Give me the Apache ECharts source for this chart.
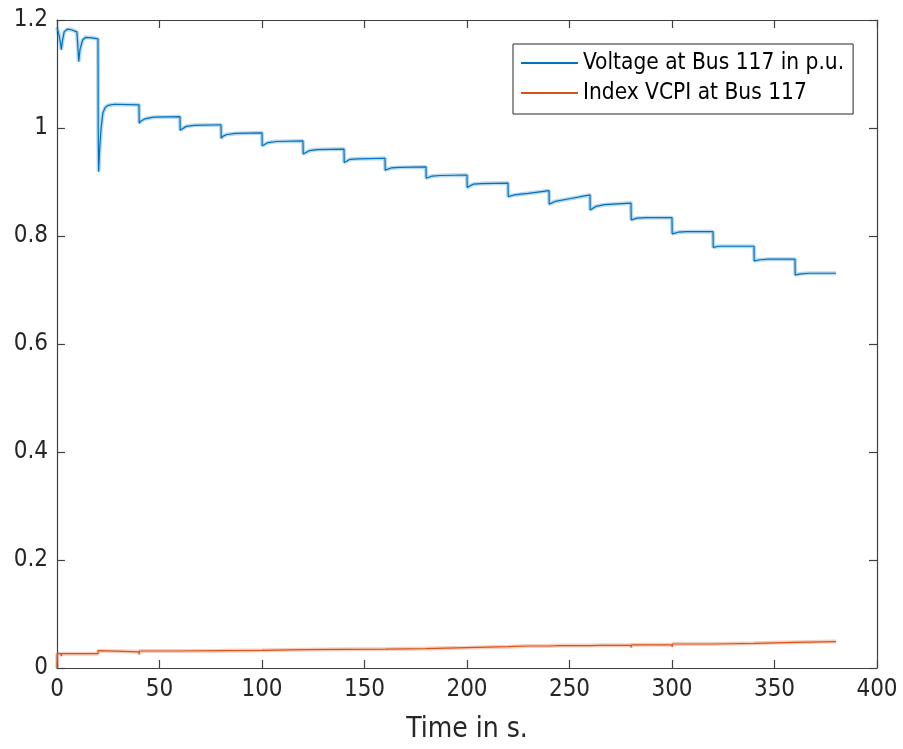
<!DOCTYPE html>
<html>
<head>
<meta charset="utf-8">
<script src="https://cdn.jsdelivr.net/npm/echarts@6/dist/echarts.min.js"></script>
<style>
html,body{margin:0;padding:0;background:#fff;}
#chart{width:903px;height:749px;}
</style>
</head>
<body>
<div id="chart"></div>
<script>
// ---- data ----
var xTicks = [0, 50, 100, 150, 200, 250, 300, 350, 400];
var yTicks = [0, 0.2, 0.4, 0.6, 0.8, 1, 1.2];
var seriesNames = ['Voltage at Bus 117 in p.u.', 'Index VCPI at Bus 117'];

var voltT = [0, 0.8, 1.6, 2.1, 2.6, 3.5, 5, 7, 9.7, 10.2, 10.6, 11.2, 12.5, 14, 17, 20, 20.1, 20.3, 20.8, 21.5, 22.4, 23.5, 25, 28, 40,
  40.1, 41, 43, 47, 60,
  60.1, 61, 63, 67, 80,
  80.1, 81, 83, 87, 100,
  100.1, 101, 103, 107, 120,
  120.1, 121, 123, 127, 140,
  140.1, 141, 143, 147, 160,
  160.1, 161, 163, 167, 180,
  180.1, 181, 183, 187, 200,
  200.1, 201, 203, 207, 220,
  220.1, 221, 223, 230, 240,
  240.1, 241, 243, 250, 260,
  260.1, 261, 263, 267, 280,
  280.1, 281, 283, 287, 300,
  300.1, 301, 303, 307, 320,
  320.1, 321, 323, 327, 340,
  340.1, 341, 343, 347, 360,
  360.1, 361, 363, 367, 380];
var voltV = [1.186, 1.175, 1.16, 1.145, 1.16, 1.178, 1.183, 1.182, 1.178, 1.15, 1.123, 1.145, 1.163, 1.168, 1.167, 1.165, 1.0, 0.919, 0.96, 1.0, 1.028, 1.038, 1.042, 1.044, 1.043,
  1.009, 1.013, 1.017, 1.020, 1.021,
  0.996, 0.999, 1.003, 1.005, 1.006,
  0.981, 0.985, 0.988, 0.990, 0.991,
  0.967, 0.970, 0.973, 0.975, 0.976,
  0.952, 0.955, 0.958, 0.960, 0.961,
  0.936, 0.939, 0.942, 0.943, 0.944,
  0.922, 0.924, 0.926, 0.927, 0.928,
  0.907, 0.909, 0.911, 0.912, 0.913,
  0.890, 0.893, 0.896, 0.897, 0.898,
  0.873, 0.874, 0.876, 0.879, 0.884,
  0.859, 0.861, 0.864, 0.869, 0.876,
  0.848, 0.851, 0.855, 0.858, 0.861,
  0.830, 0.831, 0.833, 0.834, 0.834,
  0.804, 0.805, 0.807, 0.808, 0.808,
  0.779, 0.780, 0.781, 0.781, 0.781,
  0.754, 0.755, 0.756, 0.757, 0.757,
  0.728, 0.729, 0.730, 0.731, 0.731];

var vcpiT = [0, 0.1, 2, 2.1, 2.2, 10, 10.1, 10.2, 20, 20.1, 20.4,
  40, 40.1, 40.2, 60, 60.1, 60.2, 80, 80.1, 80.2, 100, 100.1, 100.2,
  120, 120.1, 120.2, 140, 140.1, 140.2, 160, 160.1, 160.2, 180, 180.1, 180.2,
  200, 200.1, 200.2, 220, 220.1, 220.2,
  230, 230.05, 230.1, 230.15, 235, 235.05, 235.1, 235.15,
  240, 240.1, 240.2,
  245, 245.05, 245.1, 245.15, 250, 250.05, 250.1, 250.15, 255, 255.05, 255.1, 255.15,
  260, 260.1, 260.2,
  265, 265.05, 265.1, 265.15, 270, 270.05, 270.1, 270.15, 275, 275.05, 275.1, 275.15,
  280, 280.1, 280.2,
  285, 285.05, 285.1, 285.15, 290, 290.05, 290.1, 290.15, 295, 295.05, 295.1, 295.15,
  300, 300.1, 300.2,
  305, 305.05, 305.1, 305.15,
  320, 320.1, 320.2, 340, 340.1, 340.2, 360, 360.1, 360.2, 380];
var vcpiV = [0, 0.0265, 0.0265, 0.022, 0.0265, 0.0265, 0.023, 0.0265, 0.0265, 0.032, 0.030,
  0.030, 0.025, 0.0315, 0.0315, 0.028, 0.032, 0.032, 0.029, 0.0327, 0.0327, 0.030, 0.034,
  0.034, 0.031, 0.0346, 0.0346, 0.032, 0.035, 0.035, 0.032, 0.036, 0.036, 0.033, 0.0376,
  0.0376, 0.034, 0.0395, 0.0395, 0.036, 0.0407,
  0.0407, 0.043, 0.038, 0.0407, 0.0407, 0.043, 0.038, 0.0407,
  0.0407, 0.037, 0.0415,
  0.0415, 0.044, 0.039, 0.0415, 0.0415, 0.044, 0.039, 0.0415, 0.0415, 0.044, 0.039, 0.0415,
  0.0415, 0.038, 0.042,
  0.042, 0.0445, 0.0395, 0.042, 0.042, 0.0445, 0.0395, 0.042, 0.042, 0.0445, 0.0395, 0.042,
  0.042, 0.038, 0.043,
  0.043, 0.0455, 0.0405, 0.043, 0.043, 0.0455, 0.0405, 0.043, 0.043, 0.0455, 0.0405, 0.043,
  0.043, 0.039, 0.0444,
  0.0444, 0.047, 0.042, 0.0444,
  0.0444, 0.041, 0.0457, 0.0457, 0.043, 0.0475, 0.0475, 0.044, 0.049, 0.049];

// ---- build chart ----
var FONT = "'Liberation Sans Narrow', 'Arial Narrow', 'DejaVu Sans Condensed', 'Liberation Sans', sans-serif";
var AXIS_COLOR = '#404040';
var TEXT_COLOR = '#262626';
var BLUE = '#0072BD';
var RED = '#D95319';

function pairs(ts, vs) { return ts.map(function (t, i) { return [t, vs[i]]; }); }
var voltData = pairs(voltT, voltV);
var vcpiData = pairs(vcpiT, vcpiV);

var axisLine = { show: true, onZero: false, lineStyle: { color: AXIS_COLOR, width: 1.2 } };
var axisTick = { show: true, inside: true, length: 8, lineStyle: { color: AXIS_COLOR, width: 1.2 } };

var chart = echarts.init(document.getElementById('chart'), null, { renderer: 'canvas' });
chart.setOption({
  animation: false,
  backgroundColor: '#ffffff',
  textStyle: { fontFamily: FONT },
  grid: { left: 57, right: 26, top: 20, bottom: 81, containLabel: false },
  legend: {
    data: seriesNames,
    orient: 'vertical',
    left: 513,
    top: 44,
    padding: [7, 9, 9, 8],
    itemGap: 6,
    itemWidth: 57,
    itemHeight: 2,
    icon: 'rect',
    borderColor: '#262626',
    borderWidth: 1,
    backgroundColor: '#ffffff',
    textStyle: { fontFamily: FONT, fontSize: 22.5, lineHeight: 24, color: '#000' }
  },
  xAxis: [{
    type: 'value', position: 'bottom', min: 0, max: 400, interval: 50,
    axisLine: axisLine, axisTick: axisTick, splitLine: { show: false },
    axisLabel: { fontFamily: FONT, fontSize: 24, color: TEXT_COLOR, margin: 10,
      formatter: function (v) { return xTicks.indexOf(v) >= 0 ? String(v) : ''; } },
    name: 'Time in s.', nameLocation: 'middle', nameGap: 48,
    nameTextStyle: { fontFamily: FONT, fontSize: 28, color: TEXT_COLOR }
  }, {
    type: 'value', position: 'top', min: 0, max: 400, interval: 50,
    axisLine: axisLine, axisTick: axisTick, splitLine: { show: false },
    axisLabel: { show: false }
  }],
  yAxis: [{
    type: 'value', position: 'left', min: 0, max: 1.2, interval: 0.2,
    axisLine: axisLine, axisTick: axisTick, splitLine: { show: false },
    axisLabel: { fontFamily: FONT, fontSize: 24, color: TEXT_COLOR, margin: 9,
      formatter: function (v) { var r = Math.round(v * 10) / 10; return yTicks.indexOf(r) >= 0 ? String(r) : ''; } }
  }, {
    type: 'value', position: 'right', min: 0, max: 1.2, interval: 0.2,
    axisLine: axisLine, axisTick: axisTick, splitLine: { show: false },
    axisLabel: { show: false }
  }],
  series: [
    { name: 'vHalo', type: 'line', data: voltData, showSymbol: false, silent: true, z: 1,
      lineStyle: { color: BLUE, width: 4, opacity: 0.28 }, itemStyle: { color: BLUE } },
    { name: 'rHalo', type: 'line', data: vcpiData, showSymbol: false, silent: true, z: 1,
      lineStyle: { color: RED, width: 4, opacity: 0.28 }, itemStyle: { color: RED } },
    { name: seriesNames[0], type: 'line', data: voltData, showSymbol: false, z: 3,
      lineStyle: { color: BLUE, width: 1.2 }, itemStyle: { color: BLUE } },
    { name: seriesNames[1], type: 'line', data: vcpiData, showSymbol: false, z: 3,
      lineStyle: { color: RED, width: 1.2 }, itemStyle: { color: RED } }
  ]
});
</script>
</body>
</html>
